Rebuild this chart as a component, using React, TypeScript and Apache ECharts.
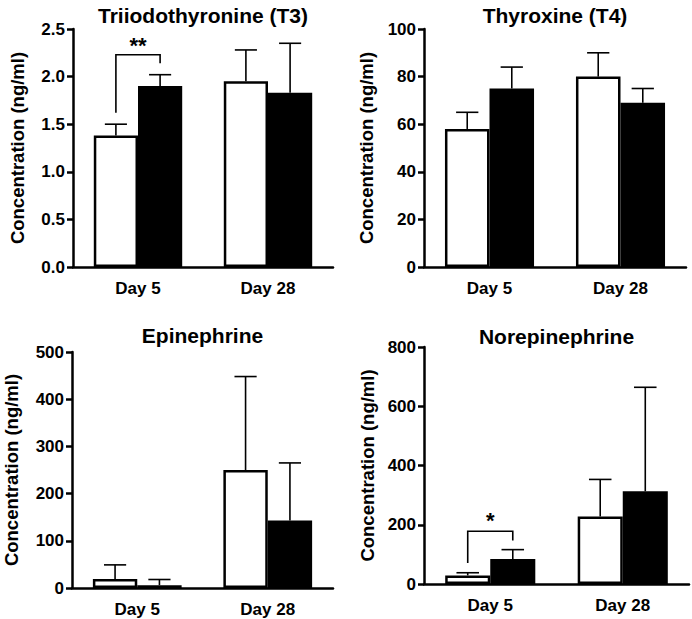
import React, { useEffect, useRef } from "react";
import * as echarts from "echarts";

const categories = ["Day 5", "Day 28"];
const panelTitles = ["Triiodothyronine (T3)", "Thyroxine (T4)", "Epinephrine", "Norepinephrine"];
const yAxisName = "Concentration (ng/ml)";

// means (white = group A, black = group B) and upper error sizes
const t3White = [1.38, 1.95];
const t3WhiteErr = [0.12, 0.33];
const t3Black = [1.9, 1.83];
const t3BlackErr = [0.12, 0.52];

const t4White = [58, 80];
const t4WhiteErr = [7, 10];
const t4Black = [75, 69];
const t4BlackErr = [9, 6];

const epiWhite = [19, 250];
const epiWhiteErr = [30, 198];
const epiBlack = [6, 143];
const epiBlackErr = [12, 122];

const norWhite = [29, 228];
const norWhiteErr = [9, 125];
const norBlack = [84, 313];
const norBlackErr = [32, 351];

// y axes
const yMax = [2.5, 100, 500, 800];
const yInterval = [0.5, 20, 100, 200];
const yDecimals = [1, 0, 0, 0];

// significance brackets
const bracketPanels = [0, 3];
const bracketCats = [0, 0];
const bracketLeftY = [1.62, 71];
const bracketTopY = [2.23, 178];
const bracketRightY = [2.14, 147];
const bracketLabelY = [2.33, 216];
const bracketLabels = ["**", "*"];

const FONT = '"Liberation Sans", Arial, Helvetica, sans-serif';
const BAR_FRAC = 0.34;

export default function App() {
  const ref = useRef<HTMLDivElement>(null);
  useEffect(() => {
    if (!ref.current) return;
    const chart = echarts.init(ref.current, undefined, { renderer: "svg" });

    const grids = [
      { left: 73, top: 29, width: 260, height: 238 },
      { left: 424, top: 29, width: 262, height: 238 },
      { left: 72, top: 352, width: 261, height: 236 },
      { left: 424, top: 347, width: 265, height: 237 },
    ];
    const titleY = [15, 15, 335, 336];
    const nameGaps = [46, 48, 51, 47];

    const whites = [t3White, t4White, epiWhite, norWhite];
    const whiteErrs = [t3WhiteErr, t4WhiteErr, epiWhiteErr, norWhiteErr];
    const blacks = [t3Black, t4Black, epiBlack, norBlack];
    const blackErrs = [t3BlackErr, t4BlackErr, epiBlackErr, norBlackErr];

    const xAxes: any[] = [];
    const yAxes: any[] = [];
    const series: any[] = [];
    const graphics: any[] = [];

    grids.forEach((g, i) => {
      xAxes.push({
        type: "category",
        gridIndex: i,
        data: categories,
        axisLine: { lineStyle: { color: "#000", width: 2.5 } },
        axisTick: { show: false },
        axisLabel: { color: "#000", fontFamily: FONT, fontWeight: "bold", fontSize: 17, margin: 13 },
      });
      yAxes.push({
        type: "value",
        gridIndex: i,
        min: 0,
        max: yMax[i],
        interval: yInterval[i],
        name: yAxisName,
        nameLocation: "middle",
        nameRotate: 90,
        nameGap: nameGaps[i],
        nameTextStyle: { color: "#000", fontFamily: FONT, fontWeight: "bold", fontSize: 18.5 },
        axisLine: { show: true, lineStyle: { color: "#000", width: 2.5 } },
        axisTick: { show: true, length: 6, lineStyle: { color: "#000", width: 2.5 } },
        splitLine: { show: false },
        axisLabel: {
          color: "#000",
          fontFamily: FONT,
          fontWeight: "bold",
          fontSize: 17,
          margin: 8,
          formatter: (v: number) => v.toFixed(yDecimals[i]),
        },
      });
      const barCommon = {
        type: "bar",
        xAxisIndex: i,
        yAxisIndex: i,
        barWidth: BAR_FRAC * 100 + "%",
        barGap: "0%",
        z: 2,
      };
      series.push({
        ...barCommon,
        data: whites[i],
        itemStyle: { color: "#fff", borderColor: "#000", borderWidth: 2.5 },
      });
      series.push({
        ...barCommon,
        data: blacks[i],
        itemStyle: { color: "#000", borderColor: "#000", borderWidth: 2.5 },
      });
      const errData: any[] = [];
      categories.forEach((_, c) => {
        errData.push([c, whites[i][c], whiteErrs[i][c], 0]);
        errData.push([c, blacks[i][c], blackErrs[i][c], 1]);
      });
      series.push({
        type: "custom",
        xAxisIndex: i,
        yAxisIndex: i,
        z: 3,
        encode: { x: 0, y: 1 },
        data: errData,
        renderItem: (params: any, api: any) => {
          const c = api.value(0);
          const v = api.value(1);
          const e = api.value(2);
          const side = api.value(3);
          const catW = api.size([1, 0])[0];
          const bw = catW * BAR_FRAC;
          const base = api.coord([c, v]);
          const top = api.coord([c, v + e]);
          const x = base[0] + (side === 0 ? -bw / 2 : bw / 2);
          const stroke = { stroke: "#000", lineWidth: 1.6 };
          return {
            type: "group",
            children: [
              { type: "line", shape: { x1: x, y1: base[1], x2: x, y2: top[1] }, style: stroke },
              { type: "line", shape: { x1: x - bw / 4, y1: top[1], x2: x + bw / 4, y2: top[1] }, style: stroke },
            ],
          };
        },
      });
      graphics.push({
        type: "text",
        x: g.left + g.width / 2,
        y: titleY[i],
        style: {
          text: panelTitles[i],
          textAlign: "center",
          textVerticalAlign: "middle",
          fontFamily: FONT,
          fontWeight: "bold",
          fontSize: 21,
          fill: "#000",
        },
      });
    });

    bracketPanels.forEach((p, b) => {
      series.push({
        type: "custom",
        xAxisIndex: p,
        yAxisIndex: p,
        z: 4,
        encode: { x: 0, y: 1 },
        data: [[bracketCats[b], bracketLeftY[b], bracketTopY[b], bracketRightY[b], bracketLabelY[b]]],
        renderItem: (params: any, api: any) => {
          const c = api.value(0);
          const catW = api.size([1, 0])[0];
          const bw = catW * BAR_FRAC;
          const l = api.coord([c, api.value(1)]);
          const t = api.coord([c, api.value(2)]);
          const r = api.coord([c, api.value(3)]);
          const lab = api.coord([c, api.value(4)]);
          const xl = l[0] - bw / 2;
          const xr = l[0] + bw / 2;
          return {
            type: "group",
            children: [
              {
                type: "polyline",
                shape: { points: [[xl, l[1]], [xl, t[1]], [xr, t[1]], [xr, r[1]]] },
                style: { stroke: "#000", lineWidth: 1.6, fill: "none" },
              },
              {
                type: "text",
                x: l[0],
                y: lab[1],
                style: {
                  text: bracketLabels[b],
                  textAlign: "center",
                  textVerticalAlign: "middle",
                  fontFamily: FONT,
                  fontWeight: "bold",
                  fontSize: 22,
                  fill: "#000",
                },
              },
            ],
          };
        },
      });
    });

    chart.setOption({
      animation: false,
      backgroundColor: "#fff",
      grid: grids,
      xAxis: xAxes,
      yAxis: yAxes,
      series,
      graphic: graphics,
    });
    return () => chart.dispose();
  }, []);
  return (
    <div
      ref={ref}
      style={{ position: "fixed", left: 0, top: 0, width: 692, height: 619, background: "#fff" }}
    />
  );
}
